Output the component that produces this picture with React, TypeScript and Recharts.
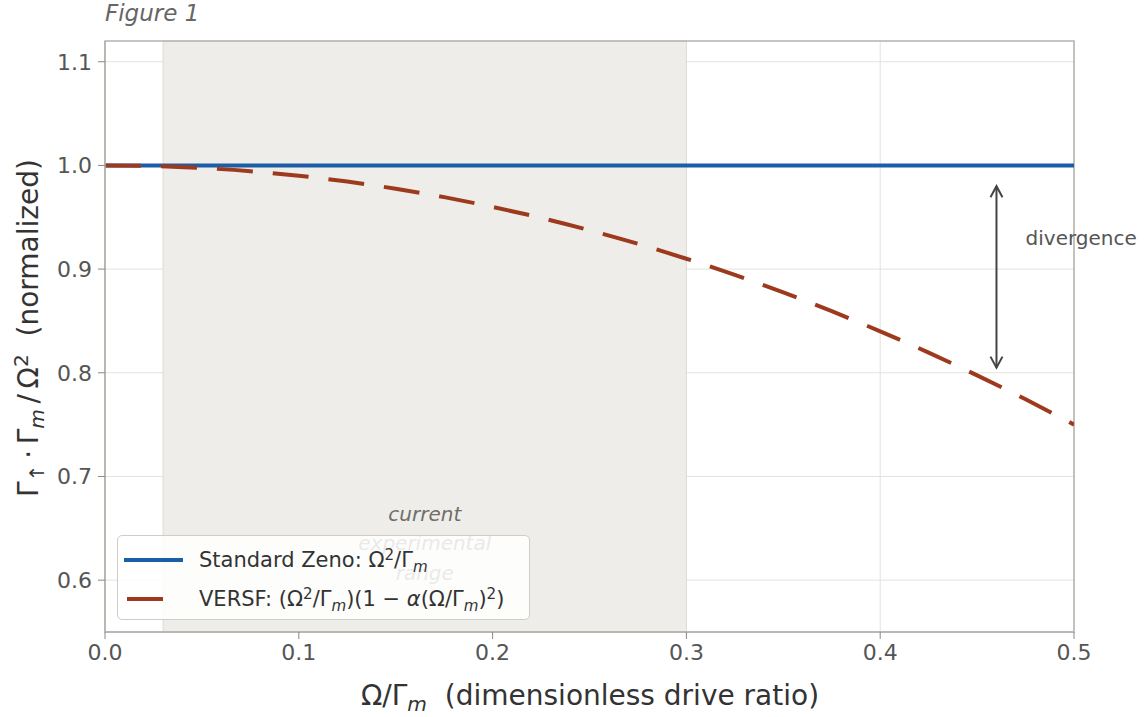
import React from 'react';
import {
    ComposedChart,
    Line,
    XAxis,
    YAxis,
    CartesianGrid,
    ReferenceArea,
    ReferenceLine,
    ReferenceDot,
} from 'recharts';

// drive ratio Ω/Γm
const ratios = [
    0, 0.025, 0.05, 0.075, 0.1, 0.125, 0.15, 0.175, 0.2, 0.225, 0.25,
    0.275, 0.3, 0.325, 0.35, 0.375, 0.4, 0.425, 0.45, 0.475, 0.5,
];
// standard Zeno (normalized) is flat
const zenoValues = [
    1, 1, 1, 1, 1, 1, 1, 1, 1, 1, 1, 1, 1, 1, 1, 1, 1, 1, 1, 1, 1,
];
// VERSF curve
const versfValues = [
    1.0, 0.9994, 0.9975, 0.9944, 0.99, 0.9844, 0.9775, 0.9694, 0.96, 0.9494, 0.9375,
    0.9244, 0.91, 0.8944, 0.8775, 0.8594, 0.84, 0.8194, 0.7975, 0.7744, 0.75,
];

const xTicks = [0, 0.1, 0.2, 0.3, 0.4, 0.5];
const yTicks = [0.6, 0.7, 0.8, 0.9, 1.0, 1.1];

const expRange = [0.03, 0.3];
const rangeLabels = ['current', 'experimental', 'range'];
const rangeLabelY = [0.664, 0.636, 0.607];
const divergence = { x: 0.46, from: 0.98, to: 0.805 };

const data = ratios.map((r, i) => ({ r, zeno: zenoValues[i], versf: versfValues[i] }));

const FONT = '"DejaVu Sans", sans-serif';
const BLUE = '#1a5ea8';
const RED = '#9d3a1d';

const Sub = ({ children }: { children: React.ReactNode }) => (
    <sub style={{ fontSize: '0.72em', fontStyle: 'italic', verticalAlign: '-0.3em', lineHeight: 0 }}>{children}</sub>
);
const Sup = ({ children }: { children: React.ReactNode }) => (
    <sup style={{ fontSize: '0.72em', verticalAlign: '0.45em', lineHeight: 0 }}>{children}</sup>
);

// sits over the plot like matplotlib's framealpha legend
const LegendBox = () => (
    <div
        style={{
            position: 'absolute',
            left: 117,
            top: 535,
            width: 413,
            height: 85,
            background: 'rgba(255,255,255,0.85)',
            border: '1.5px solid #cfcdc8',
            borderRadius: 5,
            padding: '4px 0 0 5px',
            fontFamily: FONT,
            fontSize: 21,
            color: '#333',
            boxSizing: 'border-box',
            whiteSpace: 'nowrap',
        }}
    >
        <div style={{ display: 'flex', alignItems: 'center', height: 39 }}>
            <svg width={70} height={10} style={{ flex: 'none' }}>
                <line x1={1} y1={5} x2={60} y2={5} stroke={BLUE} strokeWidth={4} />
            </svg>
            <span style={{ marginLeft: 6 }}>
                Standard Zeno: Ω<Sup>2</Sup>/Γ<Sub>m</Sub>
            </span>
        </div>
        <div style={{ display: 'flex', alignItems: 'center', height: 39 }}>
            <svg width={70} height={10} style={{ flex: 'none' }}>
                <line x1={4} y1={5} x2={40} y2={5} stroke={RED} strokeWidth={4} />
            </svg>
            <span style={{ marginLeft: 6 }}>
                VERSF: (Ω<Sup>2</Sup>/Γ<Sub>m</Sub>)(1 − <i>α</i>(Ω/Γ<Sub>m</Sub>)<Sup>2</Sup>)
            </span>
        </div>
    </div>
);

const DoubleArrow = (props: any) => {
    const { x1, y1, x2, y2 } = props;
    const top = Math.min(y1, y2);
    const bottom = Math.max(y1, y2);
    const x = x1 ?? x2;
    return (
        <g stroke="#444" strokeWidth={2} fill="none">
            <line x1={x} y1={top} x2={x} y2={bottom} />
            <polyline points={`${x - 6},${top + 11} ${x},${top} ${x + 6},${top + 11}`} />
            <polyline points={`${x - 6},${bottom - 11} ${x},${bottom} ${x + 6},${bottom - 11}`} />
        </g>
    );
};

const TextAt = (text: string, anchor: 'start' | 'middle', color: string, italic: boolean) => (props: any) => (
    <text
        x={props.cx}
        y={props.cy}
        dy="0.35em"
        textAnchor={anchor}
        fill={color}
        fontSize={20}
        fontStyle={italic ? 'italic' : 'normal'}
        fontFamily={FONT}
    >
        {text}
    </text>
);

const tickStyle = { fill: '#555', fontSize: 22, fontFamily: FONT };

export default function App() {
    return (
        <div style={{ position: 'absolute', left: 0, top: 0, width: 1144, height: 717, background: '#fff', fontFamily: FONT }}>
            <div style={{ position: 'absolute', left: 105, top: 0, fontSize: 23, fontStyle: 'italic', color: '#666' }}>
                Figure 1
            </div>
            <ComposedChart
                width={1144}
                height={717}
                data={data}
                margin={{ top: 41, right: 70, bottom: 0, left: 0 }}
                style={{ overflow: 'visible' }}
            >
                <ReferenceArea
                    x1={expRange[0]}
                    x2={expRange[1]}
                    y1={0.55}
                    y2={1.12}
                    fill="#eeede9"
                    fillOpacity={1}
                    stroke="#dcdad5"
                    strokeWidth={1}
                />
                <CartesianGrid stroke="#e3e2dd" strokeWidth={1} horizontalValues={yTicks} verticalValues={xTicks} />
                <XAxis
                    dataKey="r"
                    type="number"
                    domain={[0, 0.5]}
                    ticks={xTicks}
                    tickFormatter={(v: number) => v.toFixed(1)}
                    height={85}
                    tick={tickStyle}
                    tickSize={7}
                    tickMargin={5}
                    tickLine={{ stroke: '#888' }}
                    axisLine={{ stroke: '#b5b3ad', strokeWidth: 1.5 }}
                    allowDataOverflow
                />
                <YAxis
                    type="number"
                    domain={[0.55, 1.12]}
                    ticks={yTicks}
                    tickFormatter={(v: number) => v.toFixed(1)}
                    width={105}
                    tick={tickStyle}
                    tickSize={7}
                    tickMargin={6}
                    tickLine={{ stroke: '#888' }}
                    axisLine={{ stroke: '#b5b3ad', strokeWidth: 1.5 }}
                    allowDataOverflow
                />
                <ReferenceArea x1={0} x2={0.5} y1={0.55} y2={1.12} fill="none" stroke="#b5b3ad" strokeWidth={1.5} />
                {rangeLabels.map((t, i) => (
                    <ReferenceDot
                        key={t}
                        x={0.165}
                        y={rangeLabelY[i]}
                        shape={TextAt(t, 'middle', '#6f6e6a', true)}
                    />
                ))}
                <Line
                    dataKey="zeno"
                    stroke={BLUE}
                    strokeWidth={4}
                    dot={false}
                    isAnimationActive={false}
                    name="Standard Zeno"
                />
                <Line
                    dataKey="versf"
                    type="monotone"
                    stroke={RED}
                    strokeWidth={4}
                    strokeDasharray="36 20"
                    dot={false}
                    isAnimationActive={false}
                    name="VERSF"
                />
                <ReferenceLine
                    segment={[
                        { x: divergence.x, y: divergence.from },
                        { x: divergence.x, y: divergence.to },
                    ]}
                    shape={DoubleArrow}
                />
                <ReferenceDot x={0.475} y={0.93} shape={TextAt('divergence', 'start', '#555', false)} ifOverflow="visible" />
            </ComposedChart>
            <LegendBox />
            <div
                style={{
                    position: 'absolute',
                    left: 590,
                    top: 695,
                    transform: 'translate(-50%, -50%)',
                    whiteSpace: 'nowrap',
                    fontSize: 28,
                    color: '#333',
                }}
            >
                Ω/Γ<Sub>m</Sub>&nbsp; (dimensionless drive ratio)
            </div>
            <div
                style={{
                    position: 'absolute',
                    left: 28,
                    top: 328,
                    transform: 'translate(-50%, -50%) rotate(-90deg)',
                    whiteSpace: 'nowrap',
                    fontSize: 28,
                    color: '#333',
                }}
            >
                Γ<Sub>↑</Sub>&thinsp;·&thinsp;Γ<Sub>m</Sub>&thinsp;/&thinsp;Ω<Sup>2</Sup>&nbsp; (normalized)
            </div>
        </div>
    );
}
